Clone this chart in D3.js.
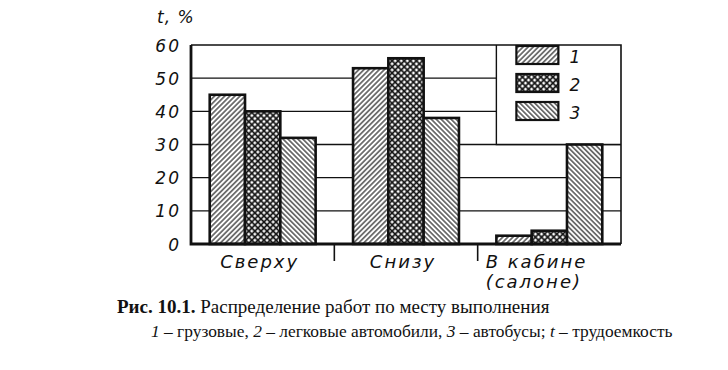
<!DOCTYPE html>
<html>
<head>
<meta charset="utf-8">
<script src="https://cdn.jsdelivr.net/npm/d3@7"></script>
<style>
  body { margin: 0; background: #fff; }
  svg { display: block; }
  .draft { font-family: "DejaVu Sans", sans-serif; font-style: italic; fill: #111; }
  .caption { font-family: "Liberation Serif", "Times New Roman", serif; fill: #111; }
</style>
</head>
<body>
<svg id="chart"></svg>
<script>
'use strict';

// data
var categories = ["Сверху", "Снизу", "В кабине|(салоне)"];
var seriesNames = ["1", "2", "3"];
var trucks = [45, 53, 2.5];   // 1 - грузовые
var cars = [40, 56, 4];       // 2 - легковые автомобили
var buses = [32, 38, 30];     // 3 - автобусы
var yTicks = [0, 10, 20, 30, 40, 50, 60];
var seriesValues = [trucks, cars, buses];

const WIDTH = 728;
const HEIGHT = 370;
const margin = {left: 191, right: 107, top: 45, bottom: 126};

var svg = d3.select("#chart")
    .attr("width", WIDTH)
    .attr("height", HEIGHT);

var x = d3.scaleBand()
    .domain(categories)
    .range([margin.left, WIDTH - margin.right])
    .paddingInner(0)
    .paddingOuter(0);

var xs = d3.scaleBand()
    .domain(seriesNames)
    .range([0, x.bandwidth()])
    .paddingInner(0)
    .paddingOuter(0.53);

var y = d3.scaleLinear()
    .domain([0, 60])
    .range([HEIGHT - margin.bottom, margin.top]);

var x0 = margin.left, x1 = WIDTH - margin.right;
var yTop = y(60), yBase = y(0);

/*
 * hatch patterns
 */
var defs = svg.append("defs");

function hatch(id, size, angle, width, cross) {
    var p = defs.append("pattern")
        .attr("id", id)
        .attr("patternUnits", "userSpaceOnUse")
        .attr("width", size)
        .attr("height", size)
        .attr("patternTransform", "rotate(" + angle + ")");
    p.append("rect").attr("width", size).attr("height", size).attr("fill", "#fff");
    p.append("line")
        .attr("x1", size / 2).attr("x2", size / 2)
        .attr("y1", 0).attr("y2", size)
        .attr("stroke", "#111").attr("stroke-width", width);
    if (cross) {
        p.append("line")
            .attr("x1", 0).attr("x2", size)
            .attr("y1", size / 2).attr("y2", size / 2)
            .attr("stroke", "#111").attr("stroke-width", width);
    }
}
hatch("h1", 3.6, 45, 1.1, false);
hatch("h2", 4.3, 45, 1.7, true);
hatch("h3", 3.5, -45, 1.1, false);
var fills = ["url(#h1)", "url(#h2)", "url(#h3)"];

// grid lines
svg.append("g")
    .selectAll("line")
    .data(yTicks.slice(1, -1))
    .enter()
    .append("line")
    .attr("x1", x0).attr("x2", x1)
    .attr("y1", function (d) { return y(d); })
    .attr("y2", function (d) { return y(d); })
    .attr("stroke", "#111")
    .attr("stroke-width", 1.4);

// legend box sits in the top right corner of the frame
var legX = x(categories[2]) + xs("1");
svg.append("rect")
    .attr("x", legX).attr("y", yTop)
    .attr("width", x1 - legX).attr("height", y(30) - yTop)
    .attr("fill", "#fff");
svg.append("path")
    .attr("d", "M" + legX + "," + yTop + "V" + y(30) + "H" + x1)
    .attr("fill", "none")
    .attr("stroke", "#111")
    .attr("stroke-width", 1.4);

var legend = svg.append("g")
    .selectAll("g")
    .data(seriesNames)
    .enter()
    .append("g")
    .attr("transform", function (d, i) { return "translate(" + (legX + 20) + "," + (yTop + 1 + i * 28) + ")"; });
legend.append("rect")
    .attr("width", 42).attr("height", 18)
    .attr("fill", function (d, i) { return fills[i]; })
    .attr("stroke", "#111").attr("stroke-width", 2.2);
legend.append("text")
    .attr("class", "draft")
    .attr("x", 53).attr("y", 17)
    .style("font-size", "17px")
    .text(function (d) { return d; });

// bars
var groups = svg.append("g")
    .selectAll("g")
    .data(categories)
    .enter()
    .append("g")
    .attr("transform", function (d) { return "translate(" + x(d) + ",0)"; });

groups.selectAll("rect")
    .data(function (d, ci) {
        return seriesNames.map(function (s, si) {
            return {series: s, index: si, value: seriesValues[si][ci]};
        });
    })
    .enter()
    .append("rect")
    .attr("x", function (d) { return xs(d.series); })
    .attr("width", xs.bandwidth())
    .attr("y", function (d) { return y(d.value); })
    .attr("height", function (d) { return yBase - y(d.value); })
    .attr("fill", function (d) { return fills[d.index]; })
    .attr("stroke", "#111")
    .attr("stroke-width", 2.6);

// frame
svg.append("path")
    .attr("d", "M" + x0 + "," + yTop + "H" + x1 + "V" + yBase)
    .attr("fill", "none")
    .attr("stroke", "#111")
    .attr("stroke-width", 1.6);
svg.append("path")
    .attr("d", "M" + x0 + "," + yTop + "V" + yBase + "H" + x1)
    .attr("fill", "none")
    .attr("stroke", "#111")
    .attr("stroke-width", 2.8);

// separators between categories below the axis
svg.append("g")
    .selectAll("line")
    .data(categories.slice(1))
    .enter()
    .append("line")
    .attr("x1", function (d) { return x(d); })
    .attr("x2", function (d) { return x(d); })
    .attr("y1", yBase)
    .attr("y2", yBase + 17)
    .attr("stroke", "#111")
    .attr("stroke-width", 1.6);

// y axis labels
var yAxis = svg.append("g")
    .attr("transform", "translate(" + (x0 - 10) + ",0)")
    .call(d3.axisLeft(y).tickValues(yTicks).tickSize(0).tickPadding(0));
yAxis.select(".domain").remove();
yAxis.selectAll("text")
    .attr("class", "draft")
    .attr("font-family", null)
    .attr("dy", "0.36em")
    .style("font-size", "17px")
    .style("letter-spacing", "2px");

svg.append("text")
    .attr("class", "draft")
    .attr("x", 157).attr("y", 23)
    .style("font-size", "17px")
    .style("letter-spacing", "1px")
    .text("t, %");

// category labels
svg.append("g")
    .selectAll("text")
    .data(categories)
    .enter()
    .append("text")
    .attr("class", "draft")
    .style("font-size", "18px")
    .style("letter-spacing", "2px")
    .each(function (d) {
        var lines = d.split("|");
        var t = d3.select(this);
        var multi = lines.length > 1;
        t.attr("text-anchor", multi ? "start" : "middle");
        lines.forEach(function (line, i) {
            t.append("tspan")
                .attr("x", multi ? x(d) + 8 : x(d) + x.bandwidth() / 2 - 3)
                .attr("y", yBase + 24 + i * 20)
                .text(line);
        });
    });

// caption
var cap = svg.append("g").attr("class", "caption");
var line1 = cap.append("text").attr("x", 117).attr("y", 313).style("font-size", "19px");
line1.append("tspan").attr("font-weight", "bold").text("Рис. 10.1.");
line1.append("tspan").text(" Распределение работ по месту выполнения");

var line2 = cap.append("text").attr("x", 151).attr("y", 337).style("font-size", "17.4px");
[["1", true], [" – грузовые, ", false], ["2", true], [" – легковые автомобили, ", false],
 ["3", true], [" – автобусы; ", false], ["t", true], [" – трудоемкость", false]].forEach(function (part) {
    line2.append("tspan")
        .attr("font-style", part[1] ? "italic" : null)
        .text(part[0]);
});
</script>
</body>
</html>
